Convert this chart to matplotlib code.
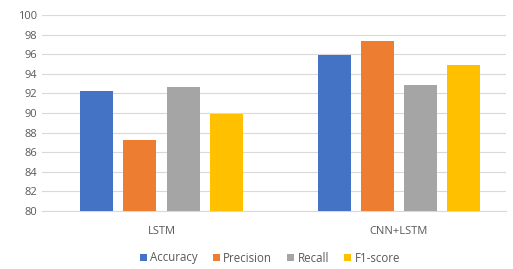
import matplotlib.pyplot as plt
import numpy as np

categories = ["LSTM", "CNN+LSTM"]
metrics = ["Accuracy", "Precision", "Recall", "F1-score"]
accuracy = [92.25, 95.9]
precision = [87.2, 97.3]
recall = [92.7, 92.9]
f1_score = [89.9, 94.9]
colors = ["#4472C4", "#ED7D31", "#A5A5A5", "#FFC000"]

plt.rcParams['font.family'] = ['Open Sans', 'DejaVu Sans']

fig = plt.figure(figsize=(5.13, 2.69), dpi=100)
ax = fig.add_axes([42 / 513, 1 - 211 / 269, 464 / 513, 196 / 269])

x = np.arange(len(categories))
step = 0.182
width = 0.139
series = [accuracy, precision, recall, f1_score]
for i, (name, vals) in enumerate(zip(metrics, series)):
    ax.bar(x + (i - 1.5) * step, vals, width, bottom=0, color=colors[i],
           label=name, zorder=3)

ax.set_ylim(80, 100)
ax.set_xlim(-0.503, 1.451)
ax.set_yticks(np.arange(80, 101, 2))
ax.set_xticks(x)
ax.set_xticklabels(categories)
ax.grid(axis='y', color='#D9D9D9', linewidth=0.8, zorder=0)
for s in ax.spines.values():
    s.set_visible(False)
ax.spines['bottom'].set_visible(True)
ax.spines['bottom'].set_color('#D9D9D9')
ax.tick_params(axis='both', length=0, labelsize=8, colors='#595959')
ax.tick_params(axis='x', pad=11)

fig.legend(loc='center', bbox_to_anchor=(270 / 513, 1 - 258 / 269), ncol=4, frameon=False,
           fontsize=8.3, handlelength=0.6, handleheight=0.6, handletextpad=0.3,
           columnspacing=1.3, labelcolor='#595959')

fig.savefig("out.png", dpi=100)
